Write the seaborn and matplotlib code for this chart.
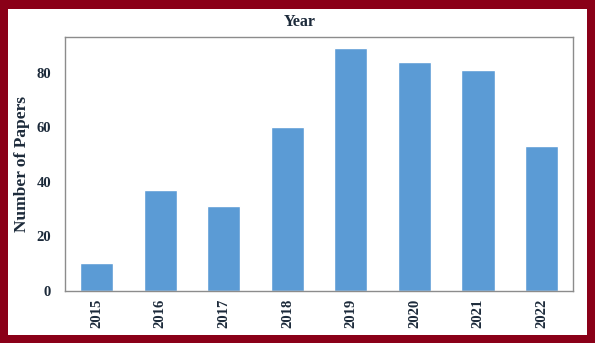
import matplotlib
matplotlib.use("Agg")
import matplotlib.pyplot as plt
import seaborn as sns
import pandas as pd
from matplotlib.patches import Rectangle

years = ["2015", "2016", "2017", "2018", "2019", "2020", "2021", "2022"]
papers = [10, 37, 31, 60, 89, 84, 81, 53]
yticks = [0, 20, 40, 60, 80]

sns.set_style("white")
plt.rcParams['font.family'] = ['Liberation Serif', 'DejaVu Serif']
plt.rcParams['font.weight'] = 'bold'

txt = "#1c2a3a"
df = pd.DataFrame({"Year": years, "Papers": papers})

fig = plt.figure(figsize=(5.95, 3.43), dpi=100)
fig.patch.set_facecolor("#8a0018")
fig.patches.append(Rectangle((8/595, 8/343), (587-8)/595, (334.5-8)/343,
                             transform=fig.transFigure, facecolor="white",
                             edgecolor="none", zorder=-10))

ax = fig.add_axes([65/595, (343-290.7)/343, (573.3-65)/595, (290.7-36.7)/343])
sns.barplot(data=df, x="Year", y="Papers", color="#5b9bd5", width=0.52,
            saturation=1, ax=ax, zorder=2)
ax.set_xlim(-0.5, 7.5)
ax.set_ylim(0, 93.2)
ax.set_yticks(yticks)
ax.set_xlabel("")
ax.set_ylabel("Number of Papers", fontsize=12.5, fontweight="bold", color=txt, labelpad=5)
for s in ax.spines.values():
    s.set_color("#8c8c8c")
    s.set_linewidth(1.0)
ax.tick_params(axis="both", which="both", direction="out", length=3, width=0.8,
               color="#8c8c8c", labelsize=10.5, labelcolor=txt, pad=4)
ax.tick_params(axis="x", labelrotation=90, pad=3)
ax.tick_params(axis="y", pad=7)
for lab in ax.get_xticklabels() + ax.get_yticklabels():
    lab.set_fontweight("bold")
fig.text(0.503, (343-22.5)/343, "Year", ha="center", va="center",
         fontsize=11.5, fontweight="bold", color=txt)

fig.savefig("out.png", dpi=100, facecolor=fig.get_facecolor())
